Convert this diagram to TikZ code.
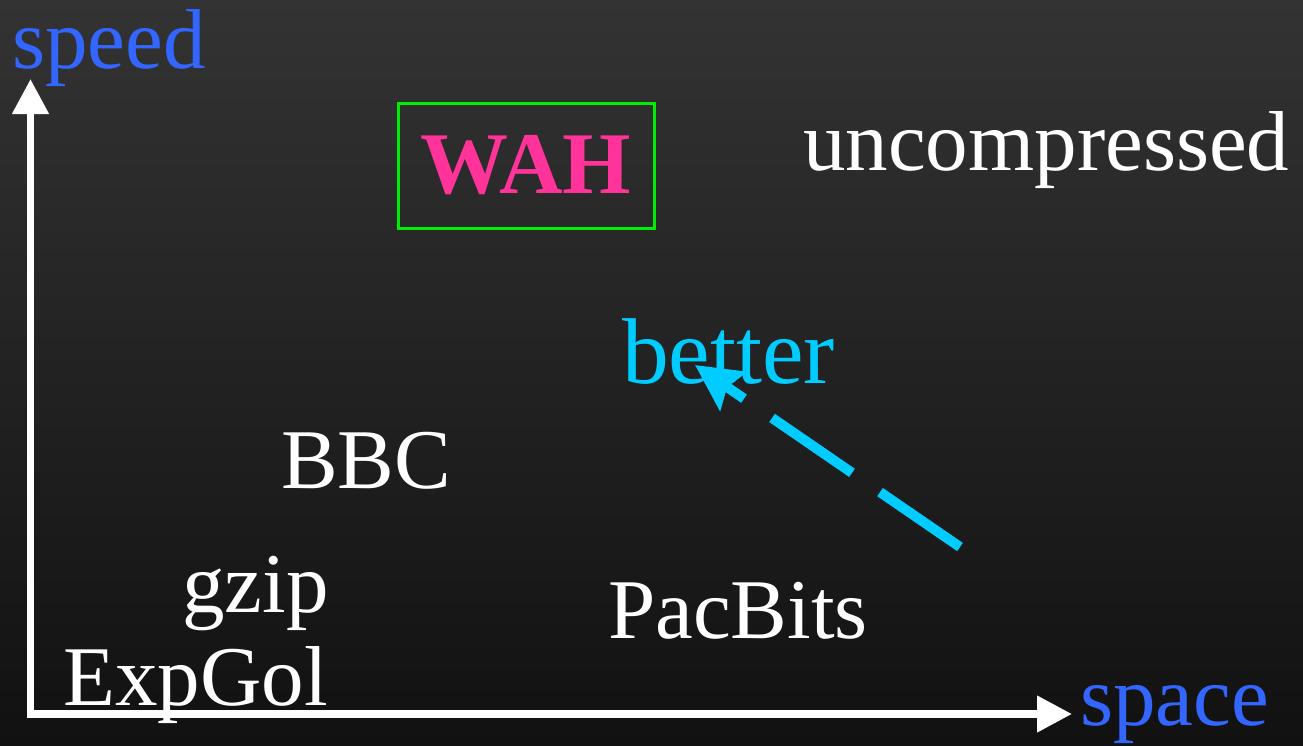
\documentclass[tikz,border=0pt]{standalone}
\usepackage{fontspec}
\setmainfont{Liberation Serif}
\usetikzlibrary{arrows.meta}
\definecolor{bgtop}{HTML}{333333}
\definecolor{bgbot}{HTML}{111111}
\definecolor{axisblue}{HTML}{3366FF}
\definecolor{bettercyan}{HTML}{00CCFF}
\definecolor{wahpink}{HTML}{FF3399}
\definecolor{boxgreen}{HTML}{00EE00}
\begin{document}
\begin{tikzpicture}[x=1pt,y=-1pt,
  lbl/.style={anchor=base west,inner sep=0pt,text=white,font=\fontsize{85}{90}\selectfont},
  axislbl/.style={lbl,text=axisblue},
  axisline/.style={draw=white,line width=7.5pt,-{Triangle[width=35pt,length=35pt]}},
  betterarrow/.style={draw=bettercyan,line width=10pt,dash pattern=on 97pt off 34pt,
    -{Stealth[length=46pt,width=46pt,inset=7pt]}}]
\shade[top color=bgtop,bottom color=bgbot] (0,0) rectangle (1303,745);
\useasboundingbox (0,0) rectangle (1303,745);
% labels
\node[axislbl] (speed) at (12,68) {speed};
\node[axislbl] (space) at (1080,725) {space};
\node[lbl] (uncomp) at (803,170) {uncompressed};
\node[lbl,text=bettercyan,font=\fontsize{93.5}{96}\selectfont] (better) at (622,383) {better};
\node[lbl] (bbc) at (281,488) {BBC};
\node[lbl] (gzip) at (182,612) {gzip};
\node[lbl] (pacbits) at (608,638) {PacBits};
\node[lbl] (expgol) at (63,705) {ExpGol};
\node[draw=boxgreen,line width=3pt,minimum width=256pt,minimum height=125pt,inner sep=0pt,
  text=wahpink,font=\fontsize{88}{90}\selectfont\bfseries] (wah) at (526,165.5) {\raisebox{-3pt}{WAH}};
% axes
\coordinate (origin) at (30.5,714);
\coordinate (ytip) at (30.5,79);
\coordinate (xtip) at (1072,714);
\draw[axisline] ([yshift=3.75pt]origin) -- (ytip);
\draw[axisline] ([xshift=-3.75pt]origin) -- (xtip);
% better arrow
\coordinate (bstart) at (960,547);
\coordinate (btip) at (695,365);
\draw[betterarrow] (bstart) -- (btip);
\end{tikzpicture}
\end{document}
